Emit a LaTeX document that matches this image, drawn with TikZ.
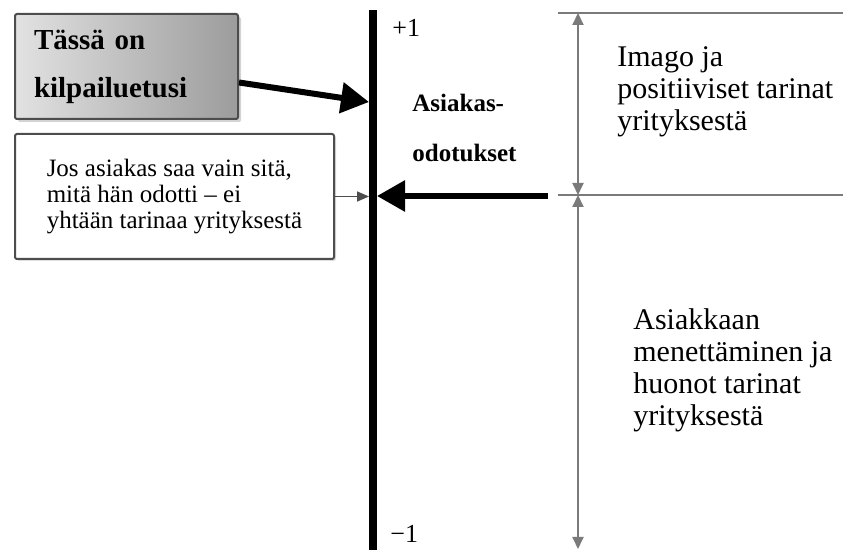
\documentclass[tikz,border=0pt]{standalone}
\usepackage{fontspec}
\setmainfont{Liberation Serif}
\usetikzlibrary{arrows.meta,shadows}
\definecolor{rimGray}{HTML}{4D4D4D}
\definecolor{scaleGray}{HTML}{7A7A7A}
\definecolor{edgeLight}{HTML}{E2E2E2}
\definecolor{edgeDark}{HTML}{9C9C9C}

\begin{document}
\begin{tikzpicture}[x=0.5pt,y=-0.5pt,
    txtbox/.style={draw=rimGray, line width=1pt, rounded corners=1pt, align=left,
                   anchor=north west, inner ysep=0pt},
    sidetxt/.style={align=left, inner sep=0pt, anchor=north west,
                    font=\fontsize{15}{16}\selectfont},
    bigarrow/.style={line width=3pt, -{Triangle[length=14pt,width=15pt]}},
    scaleline/.style={scaleGray, line width=1pt},
    scalearrow/.style={scaleGray, line width=1pt,
                       {Triangle[length=6pt,width=5.5pt]}-{Triangle[length=6pt,width=5.5pt]}}]
    \useasboundingbox (0,0) rectangle (843,550);
    % axis
    \coordinate (axtop) at (373,10);
    \coordinate (axbot) at (373,550);
    \coordinate (axL) at (369,0);
    \coordinate (axR) at (377,0);
    \draw[line width=4pt] (axtop) -- (axbot);
    \node[anchor=base west, inner sep=0pt, font=\fontsize{13}{14}\selectfont] (plus) at (392,37) {+1};
    \node[anchor=base west, inner sep=0pt, font=\fontsize{13}{14}\selectfont] (minus) at (390,543) {−1};
    \node[anchor=north west, align=left, inner sep=0pt, font=\fontsize{12.5}{25}\bfseries] (expect) at (412,94) {Asiakas-\\odotukset};
    % boxes on the left
    \node[txtbox, left color=edgeLight, right color=edgeDark, inner xsep=9.5pt,
          text width=92.5pt, minimum height=52.5pt,
          drop shadow={shadow xshift=1.5pt, shadow yshift=-1.5pt, opacity=0.35},
          font=\fontsize{14.5}{24}\bfseries] (edge) at (14,13) {Tässä on\\kilpailuetusi};
    \node[txtbox, fill=white, minimum width=159.5pt, minimum height=62.5pt,
          drop shadow={shadow xshift=1pt, shadow yshift=-1pt, opacity=0.25},
          font=\fontsize{12.5}{13}\selectfont] (jos) at (14,133)
          {Jos asiakas saa vain sitä,\\mitä hän odotti – ei\\yhtään tarinaa yrityksestä};
    \coordinate (axhit) at (369,102);
    \draw[bigarrow] ([yshift=-8pt]edge.east) -- (axhit);
    \draw[line width=0.8pt, rimGray, -{Triangle[length=6pt,width=5pt]}] (jos.east) -- (jos.east -| axL);
    \coordinate (rstart) at (548,196);
    \draw[bigarrow] (rstart) -- (axR |- rstart);
    % scale on the right
    \coordinate (stop) at (578,13);
    \coordinate (smid) at (578,195);
    \coordinate (sbot) at (578,549);
    \draw[scaleline] ([xshift=-10pt]stop) -- ++(285,0);
    \draw[scaleline] ([xshift=-10pt]smid) -- ++(285,0);
    \draw[scalearrow] (stop) -- (smid);
    \draw[scalearrow] (smid) -- (sbot);
    \node[sidetxt] (imago) at (617,46) {Imago ja\\positiiviset tarinat\\yrityksestä};
    \node[sidetxt] (loss) at (633,308) {Asiakkaan\\menettäminen ja\\huonot tarinat\\yrityksestä};
\end{tikzpicture}
\end{document}
